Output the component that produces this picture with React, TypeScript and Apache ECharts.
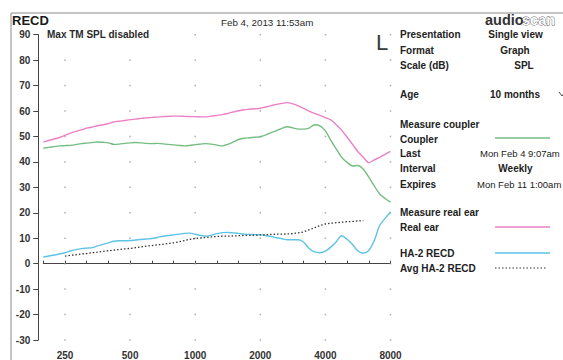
import React, { useEffect, useRef } from "react";
import * as echarts from "echarts";

// 1/12-octave frequency grid (Hz)
const FREQS = [200,212,224,238,250,265,280,300,315,335,355,375,400,425,450,475,500,530,560,600,630,670,710,750,800,850,900,950,1000,1060,1120,1180,1250,1320,1400,1500,1600,1700,1800,1900,2000,2120,2240,2360,2500,2650,2800,3000,3150,3350,3550,3750,4000,4250,4500,4750,5000,5300,5600,6000,6300,6700,7100,7500,8000];
const X_TICK_LABELS = ["250", "500", "1000", "2000", "4000", "8000"];
const Y_TICKS = [-30, -20, -10, 0, 10, 20, 30, 40, 50, 60, 70, 80, 90];

const REAL_EAR = [47.8,48.4,49.0,49.6,50.4,51.3,52.0,52.6,53.3,53.7,54.2,54.6,55.1,55.7,56.0,56.3,56.6,56.8,57.1,57.3,57.5,57.6,57.8,57.9,58.0,58.0,57.9,57.8,57.8,57.7,57.7,58.0,58.3,58.6,59.1,59.6,60.1,60.5,60.7,60.9,61.1,61.6,62.1,62.6,63.0,63.3,62.8,62.0,61.0,60.0,59.1,58.3,57.4,56.5,54.6,52.5,49.7,46.9,44.0,41.8,39.7,40.8,41.8,43.0,44.1];
const COUPLER = [45.4,45.7,46.0,46.3,46.4,46.5,46.8,47.2,47.4,47.6,47.8,47.7,47.5,46.9,47.0,47.3,47.5,47.6,47.5,47.3,47.2,47.3,47.1,46.9,46.7,46.5,46.3,46.5,46.8,47.0,47.2,47.0,46.6,46.3,46.9,47.8,48.8,49.3,49.5,49.7,49.9,50.6,51.5,52.3,53.2,53.8,53.4,52.9,52.9,53.3,54.6,54.2,52.2,48.5,45.1,41.8,39.8,38.4,38.6,37.1,34.0,30.6,27.4,25.6,24.2];
const HA2_RECD = [2.6,3.0,3.4,3.8,4.3,5.0,5.5,5.9,6.1,6.3,7.0,7.6,8.2,8.8,9.0,9.0,9.1,9.3,9.5,9.7,9.9,10.3,10.8,11.1,11.3,11.6,11.9,12.0,11.6,11.1,10.8,11.2,11.8,12.2,12.3,12.1,11.9,11.6,11.5,11.4,11.3,11.1,10.7,10.2,9.8,9.4,9.4,9.4,8.4,6.0,4.6,4.3,4.9,6.5,8.6,11.0,9.6,7.5,5.0,4.2,5.2,9.0,15.0,17.8,20.3];
const AVG_HA2_RECD = [null,null,null,null,3.0,3.3,3.5,3.8,4.0,4.3,4.5,4.8,5.1,5.3,5.6,5.8,6.0,6.3,6.6,6.9,7.1,7.4,7.6,7.9,8.2,8.6,9.1,9.6,9.9,10.1,10.3,10.5,10.7,10.8,10.8,10.9,11.0,11.1,11.1,11.2,11.3,11.4,11.5,11.6,11.6,11.7,11.8,12.1,12.5,13.3,14.1,15.0,15.6,15.9,16.1,16.3,16.5,16.6,16.8,16.9,null,null,null,null,null];

const PANEL_ROWS: [string, number][] = [
  ["Presentation", 34], ["Format", 50], ["Scale (dB)", 65], ["Age", 94],
  ["Measure coupler", 124], ["Coupler", 139], ["Last", 153], ["Interval", 168], ["Expires", 184],
  ["Measure real ear", 212], ["Real ear", 227], ["HA-2 RECD", 253], ["Avg HA-2 RECD", 268],
];
const PANEL_VALUES: [string, number, number, string, boolean, number][] = [
  ["Single view", 515.5, 34, "center", true, 10],
  ["Graph", 515, 50, "center", true, 10],
  ["SPL", 524, 65, "center", true, 10],
  ["10 months", 515, 94, "center", true, 10],
  ["Mon Feb 4 9:07am", 480, 153, "left", false, 9.5],
  ["Weekly", 515.5, 168, "center", true, 10],
  ["Mon Feb 11 1:00am", 477, 184, "left", false, 9.5],
];

const COLORS = { realEar: "#ec80c6", coupler: "#74bd80", ha2: "#5dc3e6", avg: "#333333" };
const FONT = '"Liberation Sans", Arial, sans-serif';

export default function App() {
  const ref = useRef<HTMLDivElement>(null);
  useEffect(() => {
    const chart = echarts.init(ref.current!, null, { renderer: "svg" });
    const cats = FREQS.map(String);
    const dotData: [string, number][] = [];
    X_TICK_LABELS.forEach((c) => Y_TICKS.forEach((v) => dotData.push([c, v])));

    const graphic: any[] = [
      { type: "line", shape: { x1: 11, y1: 13, x2: 563, y2: 13 }, style: { stroke: "#8a8a8a", lineWidth: 1 }, silent: true },
      { type: "line", shape: { x1: 11, y1: 13, x2: 11, y2: 360 }, style: { stroke: "#8a8a8a", lineWidth: 1 }, silent: true },
      { type: "text", x: 12, y: 20, style: { text: "RECD", font: `bold 13px ${FONT}`, fill: "#1a1a1a", verticalAlign: "middle" } },
      { type: "text", x: 47, y: 34.5, style: { text: "Max TM SPL disabled", font: `bold 10px ${FONT}`, fill: "#2a2a2a", verticalAlign: "middle" } },
      { type: "text", x: 221, y: 22.5, style: { text: "Feb 4, 2013 11:53am", font: `9.8px ${FONT}`, fill: "#2a2a2a", verticalAlign: "middle" } },
      { type: "text", x: 376, y: 42, style: { text: "L", font: `22px ${FONT}`, fill: "#3a3a3a", verticalAlign: "middle" } },
      { type: "text", x: 485, y: 20, style: { text: "audio", font: `bold 14.5px ${FONT}`, fill: "#333", verticalAlign: "middle" } },
      { type: "text", x: 522, y: 20, style: { text: "scan", font: `bold 14.5px ${FONT}`, fill: "#ffffff", stroke: "#555", lineWidth: 0.8, verticalAlign: "middle" } },
      { type: "polyline", shape: { points: [[559, 92], [562, 96], [565, 92]] }, style: { stroke: "#444", lineWidth: 1, fill: "none" } },
    ];
    PANEL_ROWS.forEach(([t, y]) => {
      graphic.push({ type: "text", x: 400, y, style: { text: t, font: `bold 10px ${FONT}`, fill: "#222", verticalAlign: "middle" } });
    });
    PANEL_VALUES.forEach(([t, x, y, align, bold, size]) => {
      graphic.push({ type: "text", x, y, style: { text: t, font: `${bold ? "bold " : ""}${size}px ${FONT}`, fill: "#222", align, verticalAlign: "middle" } });
    });
    const legendLines: [string, number, any][] = [
      [COLORS.coupler, 138, 0], [COLORS.realEar, 227, 0], [COLORS.ha2, 253, 0], [COLORS.avg, 268, [1.5, 2]],
    ];
    legendLines.forEach(([c, y, dash]) => {
      graphic.push({ type: "line", shape: { x1: 495, y1: y, x2: dash ? 547 : 550, y2: y }, style: { stroke: c, lineWidth: dash ? 1.2 : 1.5, lineDash: dash || null } });
    });

    chart.setOption({
      animation: false,
      backgroundColor: "#ffffff",
      textStyle: { fontFamily: FONT },
      grid: { left: 43.3, right: 172.5, top: 34.7, bottom: 18.5, containLabel: false },
      xAxis: {
        type: "category",
        data: cats,
        boundaryGap: false,
        offset: 7,
        axisLine: { show: true, lineStyle: { color: "#444", width: 1 } },
        axisTick: { show: true, inside: true, length: 3, interval: (i: number) => i % 4 === 0, lineStyle: { color: "#444" } },
        axisLabel: {
          interval: (_i: number, v: string) => X_TICK_LABELS.includes(v),
          margin: 3,
          fontSize: 10,
          fontWeight: "bold",
          color: "#333",
        },
        splitLine: { show: false },
      },
      yAxis: {
        type: "value",
        min: -30,
        max: 90,
        interval: 10,
        offset: 5,
        axisLine: { show: true, lineStyle: { color: "#444", width: 1 } },
        axisTick: { show: true, length: 5, lineStyle: { color: "#444" } },
        axisLabel: { margin: 8, fontSize: 10, fontWeight: "bold", color: "#333" },
        splitLine: { show: false },
      },
      series: [
        { type: "scatter", data: dotData, symbol: "rect", symbolSize: 1.5, itemStyle: { color: "#9a9a9a" }, silent: true, z: 1 },
        { name: "Coupler", type: "line", data: COUPLER, symbol: "none", smooth: 0.3, lineStyle: { color: COLORS.coupler, width: 1.4 }, z: 3 },
        { name: "Real ear", type: "line", data: REAL_EAR, symbol: "none", smooth: 0.3, lineStyle: { color: COLORS.realEar, width: 1.4 }, z: 3 },
        { name: "HA-2 RECD", type: "line", data: HA2_RECD, symbol: "none", smooth: 0.3, lineStyle: { color: COLORS.ha2, width: 1.4 }, z: 3 },
        { name: "Avg HA-2 RECD", type: "line", data: AVG_HA2_RECD, symbol: "none", connectNulls: false, lineStyle: { color: COLORS.avg, width: 1.3, type: [1.5, 2] }, z: 4 },
      ],
      graphic,
    });
    return () => chart.dispose();
  }, []);
  return <div ref={ref} style={{ position: "fixed", left: 0, top: 0, width: 563, height: 360 }} />;
}
